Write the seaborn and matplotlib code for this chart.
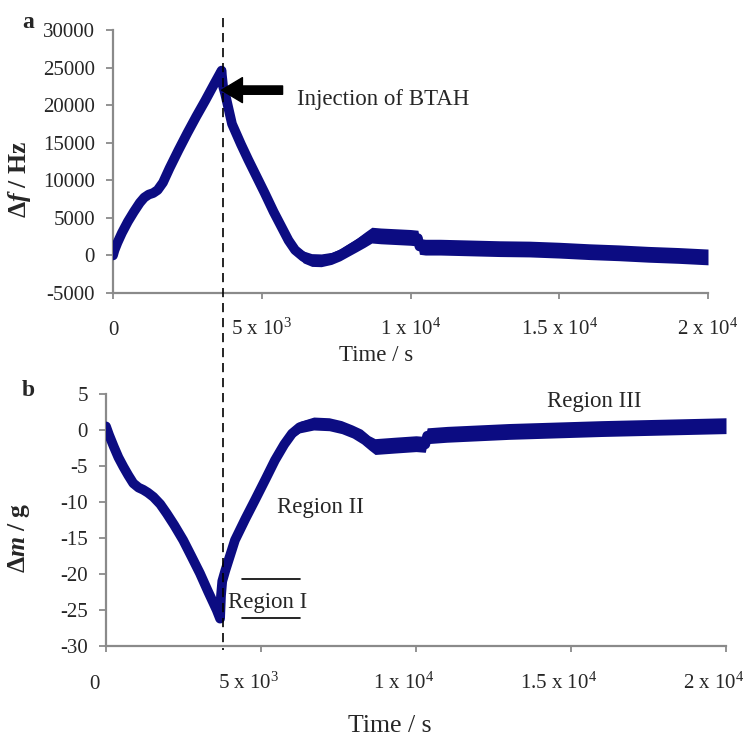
import numpy as np
import seaborn as sns
import matplotlib.pyplot as plt
from matplotlib.lines import Line2D
from matplotlib.transforms import ScaledTranslation

# panel a: frequency change vs time (band centre and half-width of the noisy trace)
time_a = [0, 50, 150, 300, 500, 700, 900, 1050, 1200, 1350, 1500, 1680, 1900,
          2200, 2500, 2800, 3100, 3400, 3650,
          3660, 3700, 3770, 4000, 4300, 4550, 4850, 5100, 5400, 5650, 5900, 6120,
          6400, 6680, 7000, 7350, 7650, 7910, 8200, 8470, 8700, 9000, 9500, 10000,
          10250, 10300, 10500, 11000, 12000, 13000, 14000, 15000, 16000, 17000,
          18000, 19000, 20000]
df_hz = [0, 700, 1700, 3000, 4500, 5800, 7000, 7700, 8100, 8300, 8700, 9700, 11600,
         14000, 16300, 18500, 20600, 22800, 24600,
         24000, 22500, 21500, 17500, 14800, 12700, 10300, 8300, 5800, 3900, 2000, 720,
         -200, -610, -650, -390, 100, 720, 1400, 2100, 2700, 2600, 2500, 2400,
         2300, 1200, 1100, 1100, 1000, 900, 850, 700, 500, 350,
         150, 0, -200]
df_spread = [0, 0, 0, 0, 0, 0, 0, 0, 0, 0, 0, 0, 0,
             0, 0, 0, 0, 0, 0,
             0, 0, 0, 0, 0, 0, 0, 0, 0, 0, 300, 600,
             800, 850, 850, 800, 800, 850, 900, 1000, 1050, 1050, 1050, 1050,
             1050, 1050, 1050, 1050, 1050, 1050, 1050, 1050, 1050, 1050,
             1050, 1050, 1050]

# panel b: mass change vs time
time_b = [0, 100, 250, 400, 560, 720, 880, 1050, 1200, 1350, 1530, 1750, 1960,
          2200, 2490, 2750, 3030, 3300, 3570, 3680,
          3710, 3750, 3850, 4160, 4500, 4810, 5150, 5450, 5750, 6000, 6250, 6700,
          7200, 7600, 7950, 8250, 8500, 8680, 9000, 9320, 10000, 10300, 10360,
          11000, 13000, 16000, 18000, 20000]
dm_g = [0.5, -0.7, -2.3, -3.8, -5.1, -6.3, -7.4, -8.0, -8.3, -8.7, -9.3, -10.3, -11.6,
        -13.2, -15.3, -17.5, -19.9, -22.5, -25.0, -26.2,
        -23.0, -21.0, -19.5, -15.3, -12.3, -9.7, -6.8, -4.2, -2.0, -0.5, 0.4, 0.9,
        0.8, 0.4, -0.2, -0.9, -1.8, -2.3, -2.2, -2.1, -1.9, -2.0, -0.8,
        -0.6, -0.2, 0.2, 0.4, 0.6]
dm_spread = [0, 0, 0, 0, 0, 0, 0, 0, 0, 0, 0, 0, 0,
             0, 0, 0, 0, 0, 0, 0,
             0, 0, 0, 0, 0, 0, 0, 0, 0.3, 0.6, 0.8, 0.9,
             0.9, 0.9, 0.9, 1.0, 1.0, 1.1, 1.1, 1.1, 1.1, 1.1, 1.1,
             1.1, 1.1, 1.1, 1.1, 1.1]

injection_time = 3700
xticks = [0, 5000, 10000, 15000, 20000]
xtick_labels = ["0", r"5 x 10$^{3}$", r"1 x 10$^{4}$", r"1.5 x 10$^{4}$", r"2 x 10$^{4}$"]
yticks_a = list(range(-5000, 30001, 5000))
yticks_b = list(range(-30, 6, 5))

navy = "#0c0c82"
grey = "#8a8a8a"

sns.set_style("ticks")
plt.rcParams["font.family"] = ["Liberation Serif", "DejaVu Serif"]
plt.rcParams["mathtext.fontset"] = "custom"
plt.rcParams["mathtext.rm"] = "Liberation Serif"
plt.rcParams["mathtext.it"] = "Liberation Serif:italic"
plt.rcParams["mathtext.bf"] = "Liberation Serif:bold"
if "mathtext.bfit" in plt.rcParams:
    plt.rcParams["mathtext.bfit"] = "Liberation Serif:italic:bold"
    lab_a = r"$\mathbf{\Delta}\mathbfit{f}\ \mathbf{/\ Hz}$"
    lab_b = r"$\mathbf{\Delta}\mathbfit{m}\ \mathbf{/\ g}$"
else:
    lab_a = r"$\mathbf{\Delta}\mathit{f}\ \mathbf{/\ Hz}$"
    lab_b = r"$\mathbf{\Delta}\mathit{m}\ \mathbf{/\ g}$"

W, H = 744, 737
fig = plt.figure(figsize=(W / 100, H / 100), dpi=100)
ax_a = fig.add_axes([113 / W, 1 - 293 / H, 595 / W, 263 / H])
ax_b = fig.add_axes([106 / W, 1 - 646 / H, 620 / W, 252 / H])


def draw_band(ax, t, v, s):
    v = np.asarray(v, dtype=float)
    s = np.asarray(s, dtype=float)
    ax.fill_between(t, v - s, v + s, color=navy, lw=0, zorder=2)
    sns.lineplot(x=t, y=v, ax=ax, color=navy, linewidth=7, sort=False,
                 estimator=None, solid_capstyle="round", solid_joinstyle="round", zorder=3)


draw_band(ax_a, time_a, df_hz, df_spread)
draw_band(ax_b, time_b, dm_g, dm_spread)

for ax, yt in ((ax_a, yticks_a), (ax_b, yticks_b)):
    ax.set_xlim(0, 20000)
    ax.set_ylim(yt[0], yt[-1])
    ax.set_yticks(yt)
    ax.set_yticklabels([str(v) for v in yt])
    ax.set_xticks(xticks)
    ax.set_xticklabels(xtick_labels)
    sns.despine(ax=ax)
    for side in ("left", "bottom"):
        ax.spines[side].set_color(grey)
        ax.spines[side].set_linewidth(1.6)
    ax.tick_params(axis="y", direction="out", length=5, width=1.3, color=grey,
                   labelsize=15, pad=8)
    ax.tick_params(axis="x", direction="out", length=4, width=1.3, color=grey,
                   labelsize=15)
    ax.set_xlabel("Time / s", fontsize=16.5)

ax_a.tick_params(axis="x", pad=26)
ax_b.tick_params(axis="x", pad=27)
plt.setp(ax_a.get_xticklabels(), va="baseline")
plt.setp(ax_b.get_xticklabels(), va="baseline")
shift = ScaledTranslation(-12 / 100, 0, fig.dpi_scale_trans)
for lbl in ax_b.get_xticklabels():
    lbl.set_transform(lbl.get_transform() + shift)

ax_a.xaxis.set_label_coords(0.442, -0.198)
ax_b.xaxis.set_label_coords(0.458, -0.272)
ax_b.xaxis.label.set_fontsize(18.5)

ax_a.set_ylabel(lab_a, fontsize=18.5)
ax_b.set_ylabel(lab_b, fontsize=18.5)
ax_a.yaxis.set_label_coords(-0.135, 0.43)
ax_b.yaxis.set_label_coords(-0.119, 0.43)

# injection marker across both panels
x_inj = fig.transFigure.inverted().transform(ax_a.transData.transform((injection_time, 0)))[0]
fig.add_artist(Line2D([x_inj, x_inj], [1 - 18 / H, 1 - 650 / H], transform=fig.transFigure,
                      color="black", lw=1.2, ls=(0, (5.5, 3.5)), zorder=5))

ax_a.annotate("", xy=(3650, 22000), xytext=(5700, 22000),
              arrowprops=dict(arrowstyle="simple,head_length=1.5,head_width=1.8,tail_width=0.6",
                              mutation_scale=10, color="black", shrinkA=0, shrinkB=0))
ax_a.text(6180, 20700, "Injection of BTAH", fontsize=16.5, ha="left", va="center")

ax_b.text(5520, -10.8, "Region II", fontsize=16.5, ha="left", va="center")
ax_b.text(14230, 3.9, "Region III", fontsize=16.5, ha="left", va="center")
ax_b.text(3940, -23.9, "Region I", fontsize=16.5, ha="left", va="center")
ax_b.plot([4390, 6260], [-20.7, -20.7], color="black", lw=1.2)
ax_b.plot([4390, 6260], [-26.1, -26.1], color="black", lw=1.2)

fig.text(28 / W, 1 - 23 / H, "a", fontsize=17, fontweight="bold", ha="center", va="center")
fig.text(28 / W, 1 - 390 / H, "b", fontsize=17, fontweight="bold", ha="center", va="center")

fig.savefig("out.png", dpi=100)
